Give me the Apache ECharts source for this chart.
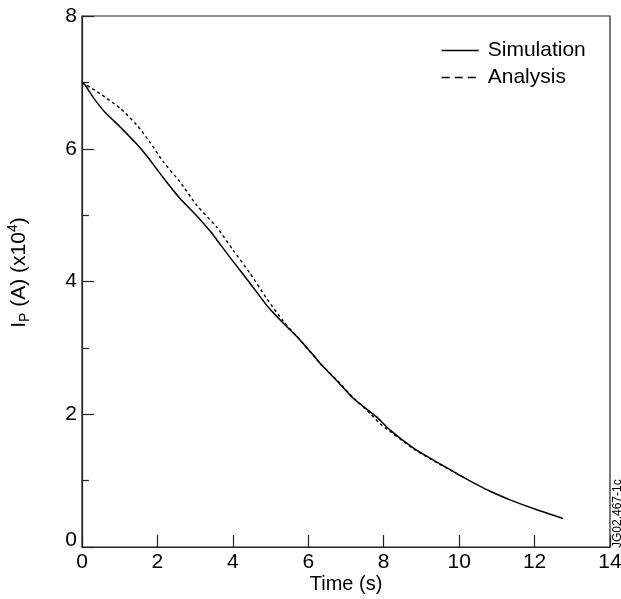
<!DOCTYPE html>
<html>
<head>
<meta charset="utf-8">
<script src="https://cdn.jsdelivr.net/npm/echarts@6/dist/echarts.min.js"></script>
<style>html,body{margin:0;padding:0;background:#fff;}#c{width:621px;height:599px;}</style>
</head>
<body>
<div id="c"></div>
<script>
var simT = [0, 0.08, 0.30, 0.61, 1.01, 1.45, 1.72, 2.16, 2.60, 3.04, 3.44, 3.57, 4.01, 4.46, 4.90, 5.34, 5.78, 6.18, 6.31, 6.75, 7.19, 7.81, 8.17, 8.79, 9.41, 10.02, 10.54, 10.82, 11.35, 12.06, 12.75];
var simV = [7.00, 6.96, 6.77, 6.55, 6.33, 6.07, 5.89, 5.56, 5.25, 4.99, 4.73, 4.63, 4.30, 3.97, 3.64, 3.37, 3.12, 2.86, 2.77, 2.51, 2.24, 1.96, 1.76, 1.49, 1.28, 1.08, 0.92, 0.84, 0.71, 0.56, 0.43];
var anaT = [0, 0.48, 1.01, 1.45, 1.80, 2.16, 2.60, 3.04, 3.57, 4.01, 4.46, 4.90, 5.34, 5.78, 6.31, 6.75, 7.19, 7.46, 7.64, 7.90, 8.17, 8.79, 9.41, 10.02, 10.2];
var anaV = [7.00, 6.83, 6.61, 6.36, 6.10, 5.80, 5.50, 5.15, 4.82, 4.47, 4.12, 3.74, 3.40, 3.12, 2.77, 2.52, 2.25, 2.11, 2.01, 1.86, 1.74, 1.48, 1.27, 1.08, 1.03];
var seriesNames = ['Simulation', 'Analysis'];
var xTitle = 'Time (s)';
var tag = 'JG02.467-1c';

function pairs(t, v) { return t.map(function (x, i) { return [x, v[i]]; }); }

var FONT = '"Liberation Sans", Arial, sans-serif';
var chart = echarts.init(document.getElementById('c'), null, {renderer: 'canvas'});
chart.setOption({
  animation: false,
  backgroundColor: '#fff',
  color: ['#000', '#000'],
  grid: {left: 82, right: 11, top: 16, bottom: 52, outerBoundsMode: 'none', containLabel: false,
         show: true, borderColor: '#222', borderWidth: 1.2, backgroundColor: 'transparent'},
  legend: {
    orient: 'vertical', left: 436, top: 35,
    itemWidth: 37, itemHeight: 14, itemGap: 6,
    itemStyle: {opacity: 0},
    textStyle: {fontFamily: FONT, fontSize: 21, lineHeight: 21, color: '#000', padding: [0, 0, 0, 4]},
    data: [
      {name: seriesNames[0], itemStyle: {opacity: 0}, lineStyle: {type: 'solid', width: 1.5, color: '#000'}},
      {name: seriesNames[1], itemStyle: {opacity: 0}, lineStyle: {type: [8, 5], width: 1.5, color: '#000'}}
    ]
  },
  xAxis: {
    type: 'value', min: 0, max: 14, interval: 2,
    name: xTitle, nameLocation: 'middle', nameGap: 27, nameMoveOverlap: false,
    nameTextStyle: {fontFamily: FONT, fontSize: 20, color: '#000'},
    axisLine: {show: true, lineStyle: {color: '#222', width: 1.2}},
    axisTick: {show: true, inside: true, length: 12, lineStyle: {color: '#222', width: 1.2}},
    axisLabel: {fontFamily: FONT, fontSize: 21, color: '#000', margin: 5},
    splitLine: {show: false}
  },
  yAxis: {
    type: 'value', min: 0, max: 8, interval: 2,
    name: '{a|I}{sub|P}{a| (A) (x10}{sup|4}{a|)}', nameLocation: 'middle', nameGap: 50, nameRotate: 90,
    nameMoveOverlap: false,
    nameTextStyle: {
      fontFamily: FONT, fontSize: 21, color: '#000', padding: [0, 0, 0, 18],
      rich: {
        a: {fontFamily: FONT, fontSize: 21, color: '#000', lineHeight: 26, verticalAlign: 'middle'},
        sub: {fontFamily: FONT, fontSize: 14, color: '#000', lineHeight: 26, verticalAlign: 'bottom'},
        sup: {fontFamily: FONT, fontSize: 14, color: '#000', lineHeight: 26, verticalAlign: 'top'}
      }
    },
    axisLine: {show: true, lineStyle: {color: '#222', width: 1.2}},
    axisTick: {show: true, inside: true, length: 12, lineStyle: {color: '#222', width: 1.2}},
    minorTick: {show: true, splitNumber: 2, length: 7, lineStyle: {color: '#222', width: 1.2}},
    axisLabel: {
      fontFamily: FONT, fontSize: 21, color: '#000', margin: 5,
      formatter: function (v) { return v === 0 ? '{z|0}' : String(v); },
      rich: {z: {fontFamily: FONT, fontSize: 21, color: '#000', padding: [0, 0, 14, 0]}}
    },
    splitLine: {show: false}
  },
  graphic: [{
    type: 'text', x: 612, y: 548, rotation: Math.PI / 2,
    style: {text: tag, fontFamily: FONT, fontSize: 12, fill: '#000', align: 'left', verticalAlign: 'top'}
  }],
  series: [
    {name: seriesNames[0], type: 'line', data: pairs(simT, simV), symbol: 'none', smooth: 0.2,
     itemStyle: {color: '#000'}, lineStyle: {color: '#000', width: 1.5, type: 'solid'}},
    {name: seriesNames[1], type: 'line', data: pairs(anaT, anaV), symbol: 'none', smooth: 0.2,
     itemStyle: {color: '#000'}, lineStyle: {color: '#000', width: 1.4, type: [3, 3]}}
  ]
});
</script>
</body>
</html>
